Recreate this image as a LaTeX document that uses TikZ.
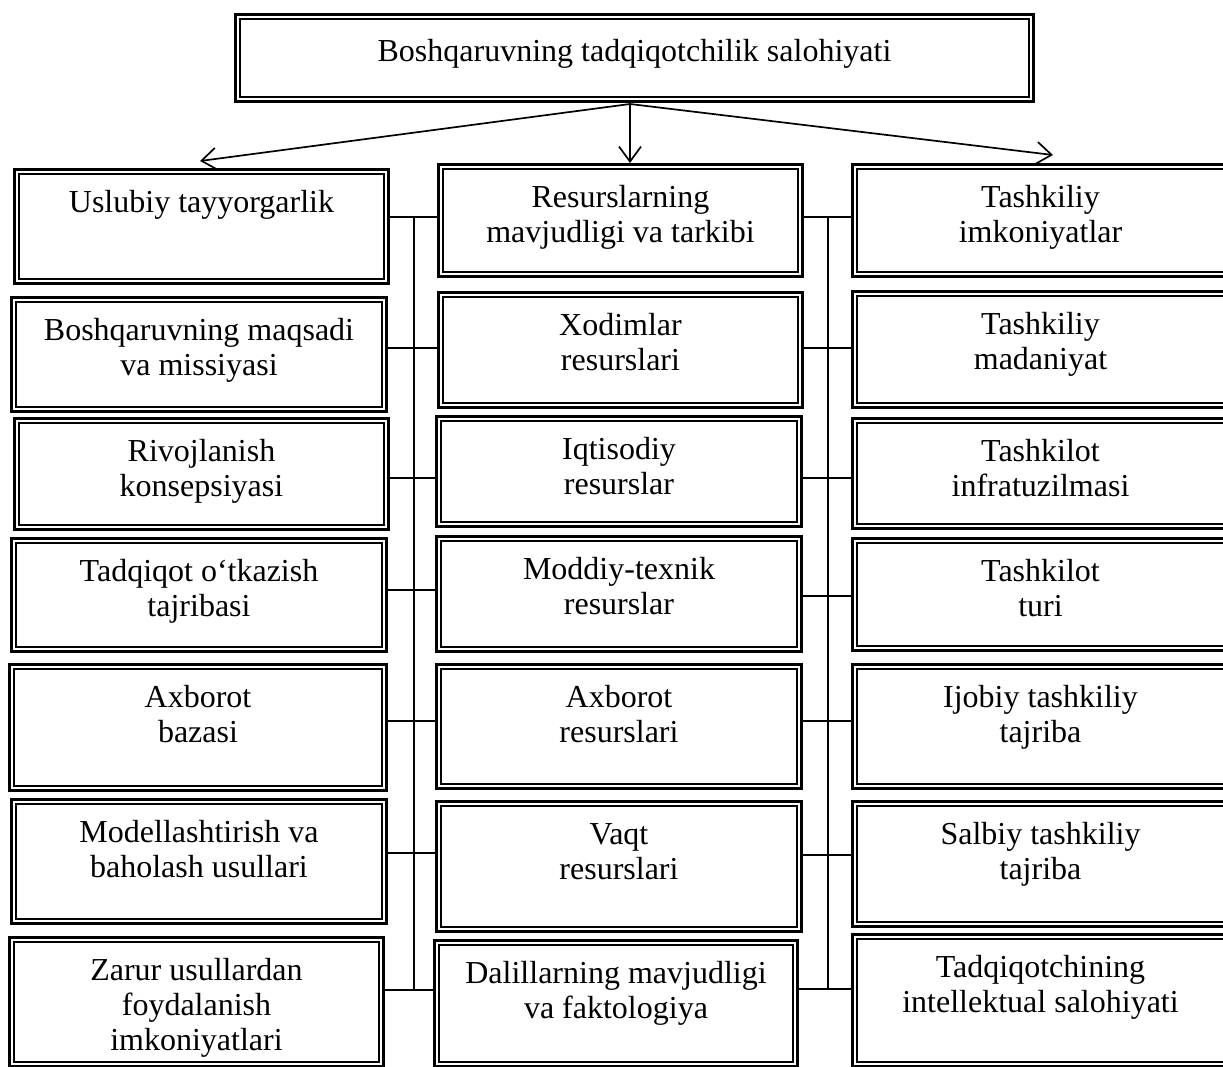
\documentclass[tikz,border=0pt]{standalone}
\usepackage{fontspec}
\setmainfont{Liberation Serif}
\usetikzlibrary{arrows.meta}
\newcommand{\tx}[1]{\begin{tabular}[t]{@{}c@{}}#1\end{tabular}}
\tikzset{
  bx/.style={draw, line width=2.6pt, rectangle, inner sep=0pt, anchor=north west,
    path picture={\draw[line width=1.6pt]
      ([shift={(4.6pt,-4.6pt)}]path picture bounding box.north west) rectangle
      ([shift={(-4.6pt,4.6pt)}]path picture bounding box.south east);}},
  lbl/.style={anchor=base, inner sep=0pt, font=\fontsize{32}{35}\selectfont},
  conn/.style={line width=1.3pt},
  arr/.style={line width=1.7pt, -{Straight Barb[length=15pt,width=22pt]}},
}
\newcommand{\mybox}[6]{%
  \node[bx, minimum width={#4-#2-2.6}, minimum height={#5-#3-2.6}] (#1) at (#2,#3) {};
  \node[lbl] (#1t) at ({(#2+#4)/2},{#3+44}) {\tx{#6}};
}
\begin{document}
\begin{tikzpicture}[x=1pt,y=-1pt]
\useasboundingbox (0,0) rectangle (1223,1066);
% top
\node[bx, minimum width={1035-234-2.6}, minimum height={103-13-2.6}] (T) at (234,13) {};
\node[lbl] (Tt) at (634.5,61) {\tx{Boshqaruvning tadqiqotchilik salohiyati}};
% left column
\mybox{L1}{13}{168}{390}{285}{Uslubiy tayyorgarlik}
\mybox{L2}{10}{296}{388}{413}{Boshqaruvning maqsadi\\va missiyasi}
\mybox{L3}{13}{417}{390}{531}{Rivojlanish\\konsepsiyasi}
\mybox{L4}{10}{537}{388}{653}{Tadqiqot o‘tkazish\\tajribasi}
\mybox{L5}{8}{663}{388}{792}{Axborot\\bazasi}
\mybox{L6}{10}{798}{388}{925}{Modellashtirish va\\baholash usullari}
\mybox{L7}{8}{936}{385}{1068}{Zarur usullardan\\foydalanish\\imkoniyatlari}
% middle column
\mybox{M1}{437}{163}{804}{278}{Resurslarning\\mavjudligi va tarkibi}
\mybox{M2}{437}{291}{804}{409}{Xodimlar\\resurslari}
\mybox{M3}{435}{415}{803}{528}{Iqtisodiy\\resurslar}
\mybox{M4}{435}{535}{803}{653}{Moddiy-texnik\\resurslar}
\mybox{M5}{435}{663}{803}{790}{Axborot\\resurslari}
\mybox{M6}{435}{800}{803}{933}{Vaqt\\resurslari}
\mybox{M7}{433}{939}{799}{1068}{Dalillarning mavjudligi\\va faktologiya}
% right column
\mybox{R1}{851}{163}{1230}{278}{Tashkiliy\\imkoniyatlar}
\mybox{R2}{851}{290}{1230}{409}{Tashkiliy\\madaniyat}
\mybox{R3}{851}{417}{1230}{530}{Tashkilot\\infratuzilmasi}
\mybox{R4}{851}{537}{1230}{652}{Tashkilot\\turi}
\mybox{R5}{851}{663}{1230}{790}{Ijobiy tashkiliy\\tajriba}
\mybox{R6}{851}{800}{1230}{928}{Salbiy tashkiliy\\tajriba}
\mybox{R7}{851}{933}{1230}{1068}{Tadqiqotchining\\intellektual salohiyati}
% bus coordinates
\coordinate (a1) at (414,217); \coordinate (a2) at (414,348);
\coordinate (a3) at (414,478); \coordinate (a4) at (414,590);
\coordinate (a5) at (414,721); \coordinate (a6) at (414,853);
\coordinate (a7) at (414,990);
\coordinate (b1) at (828,217); \coordinate (b2) at (828,348);
\coordinate (b3) at (828,478); \coordinate (b4) at (828,596);
\coordinate (b5) at (828,721); \coordinate (b6) at (828,855);
\coordinate (b7) at (828,989);
\foreach \i in {1,...,7}{
  \draw[conn] (L\i.east |- a\i) -- (M\i.west |- a\i);
  \draw[conn] (M\i.east |- b\i) -- (R\i.west |- b\i);
}
\draw[conn] (a1) -- (a7);
\draw[conn] (b1) -- (b7);
% arrows
\coordinate (o) at (630,104);
\coordinate (e1) at (200,161);
\coordinate (e3) at (1053,155);
\draw[arr] (o) -- (e1);
\draw[arr] (o) -- (o |- M1.north);
\draw[arr] (o) -- (e3);
\end{tikzpicture}
\end{document}
